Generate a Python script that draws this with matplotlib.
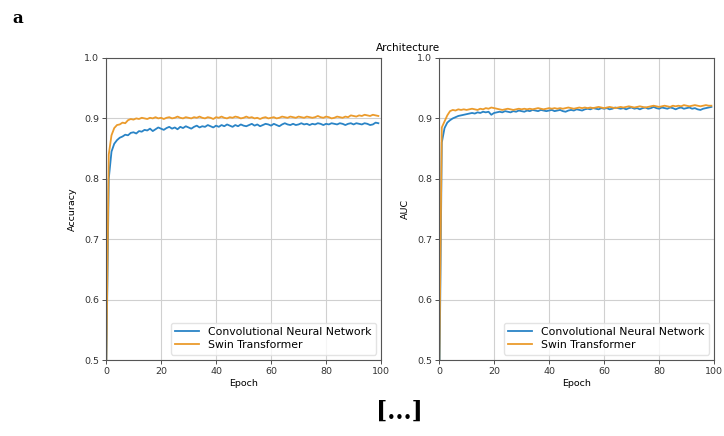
import numpy as np
import matplotlib
matplotlib.use("Agg")
import matplotlib.pyplot as plt

epochs = list(range(100))

cnn_acc = [0.45, 0.80, 0.845, 0.858, 0.864, 0.868, 0.870, 0.873, 0.872, 0.876,
           0.877, 0.875, 0.879, 0.878, 0.881, 0.880, 0.883, 0.879, 0.882, 0.885,
           0.883, 0.881, 0.884, 0.886, 0.883, 0.885, 0.882, 0.886, 0.884, 0.887,
           0.885, 0.883, 0.886, 0.888, 0.885, 0.887, 0.886, 0.889, 0.887, 0.885,
           0.888, 0.886, 0.889, 0.887, 0.890, 0.888, 0.886, 0.889, 0.887, 0.890,
           0.888, 0.887, 0.889, 0.891, 0.888, 0.890, 0.887, 0.889, 0.891, 0.890,
           0.888, 0.891, 0.889, 0.887, 0.890, 0.892, 0.890, 0.889, 0.891, 0.889,
           0.890, 0.892, 0.890, 0.891, 0.889, 0.891, 0.890, 0.892, 0.891, 0.889,
           0.891, 0.890, 0.892, 0.891, 0.890, 0.892, 0.891, 0.889, 0.891, 0.892,
           0.890, 0.892, 0.891, 0.890, 0.892, 0.891, 0.889, 0.890, 0.893, 0.892]

swin_acc = [0.45, 0.84, 0.872, 0.884, 0.889, 0.890, 0.893, 0.892, 0.897, 0.899,
            0.898, 0.900, 0.899, 0.901, 0.900, 0.899, 0.901, 0.900, 0.902, 0.900,
            0.901, 0.899, 0.901, 0.902, 0.900, 0.901, 0.903, 0.901, 0.900, 0.902,
            0.901, 0.900, 0.902, 0.901, 0.903, 0.901, 0.900, 0.902, 0.901, 0.899,
            0.902, 0.901, 0.903, 0.901, 0.900, 0.902, 0.901, 0.903, 0.902, 0.900,
            0.901, 0.903, 0.901, 0.902, 0.900, 0.901, 0.899, 0.901, 0.902, 0.900,
            0.901, 0.902, 0.900, 0.901, 0.903, 0.902, 0.901, 0.903, 0.902, 0.901,
            0.903, 0.902, 0.901, 0.903, 0.902, 0.901, 0.902, 0.904, 0.902, 0.901,
            0.903, 0.902, 0.900, 0.901, 0.903, 0.902, 0.901, 0.903, 0.902, 0.905,
            0.904, 0.903, 0.905, 0.904, 0.906, 0.905, 0.904, 0.906, 0.905, 0.904]

cnn_auc = [0.40, 0.86, 0.884, 0.893, 0.897, 0.900, 0.902, 0.904, 0.905, 0.906,
           0.907, 0.908, 0.909, 0.908, 0.910, 0.909, 0.911, 0.910, 0.911, 0.906,
           0.909, 0.910, 0.911, 0.910, 0.912, 0.911, 0.910, 0.912, 0.911, 0.913,
           0.912, 0.911, 0.913, 0.912, 0.914, 0.913, 0.912, 0.914, 0.913, 0.912,
           0.913, 0.914, 0.912, 0.913, 0.914, 0.912, 0.911, 0.913, 0.914, 0.913,
           0.915, 0.914, 0.913, 0.915, 0.916, 0.915, 0.917, 0.916, 0.915, 0.917,
           0.916, 0.917, 0.915, 0.916, 0.918, 0.917, 0.916, 0.917, 0.915, 0.917,
           0.918, 0.916, 0.917, 0.915, 0.917, 0.918, 0.916, 0.917, 0.919, 0.917,
           0.916, 0.918, 0.917, 0.916, 0.918, 0.917, 0.915, 0.917, 0.918, 0.916,
           0.917, 0.918, 0.916, 0.917, 0.915, 0.914, 0.916, 0.917, 0.918, 0.919]

swin_auc = [0.45, 0.885, 0.895, 0.905, 0.912, 0.914, 0.913, 0.915, 0.914, 0.915,
            0.914, 0.915, 0.916, 0.915, 0.914, 0.916, 0.915, 0.917, 0.916, 0.918,
            0.917, 0.916, 0.915, 0.914, 0.915, 0.916, 0.915, 0.914, 0.915, 0.916,
            0.915, 0.916, 0.915, 0.916, 0.915, 0.916, 0.917, 0.916, 0.915, 0.916,
            0.917, 0.916, 0.917, 0.916, 0.917, 0.916, 0.917, 0.918, 0.917, 0.916,
            0.917, 0.918, 0.917, 0.918, 0.917, 0.918, 0.917, 0.918, 0.919, 0.918,
            0.917, 0.918, 0.919, 0.918, 0.917, 0.918, 0.919, 0.918, 0.919, 0.920,
            0.919, 0.918, 0.919, 0.920, 0.919, 0.918, 0.919, 0.920, 0.921, 0.920,
            0.919, 0.920, 0.921, 0.920, 0.919, 0.921, 0.920, 0.921, 0.920, 0.922,
            0.921, 0.920, 0.921, 0.922, 0.921, 0.920, 0.921, 0.922, 0.921, 0.921]

labels = ["Convolutional Neural Network", "Swin Transformer"]
colors = ["#2a84c6", "#eb9b2c"]
yticks = [0.5, 0.6, 0.7, 0.8, 0.9, 1.0]
xticks = [0, 20, 40, 60, 80, 100]

fig = plt.figure(figsize=(7.24, 4.36), dpi=100)
ax1 = fig.add_axes([0.1464, 0.1743, 0.380, 0.6927])
ax2 = fig.add_axes([0.6064, 0.1743, 0.380, 0.6927])

panels = [(ax1, cnn_acc, swin_acc, "Accuracy"), (ax2, cnn_auc, swin_auc, "AUC")]
for ax, a, b, ylab in panels:
    ax.plot(epochs, a, color=colors[0], lw=1.3, label=labels[0])
    ax.plot(epochs, b, color=colors[1], lw=1.3, label=labels[1])
    ax.set_xlim(0, 100)
    ax.set_ylim(0.5, 1.0)
    ax.set_xticks(xticks)
    ax.set_yticks(yticks)
    ax.set_yticklabels([f"{t:.1f}" for t in yticks])
    ax.grid(True, color="#d0d0d0", lw=0.8)
    ax.tick_params(labelsize=6.8, length=3, width=0.6, colors="#333333", pad=2)
    for s in ax.spines.values():
        s.set_color("#555555")
        s.set_linewidth(0.8)
    ax.set_xlabel("Epoch", fontsize=6.8, labelpad=2)
    ax.set_ylabel(ylab, fontsize=6.8, labelpad=5)
    ax.legend(loc="lower right", fontsize=7.8, frameon=True, framealpha=0.8,
              edgecolor="#dddddd", fancybox=True, handlelength=2.2,
              borderpad=0.4, labelspacing=0.3)

fig.text(0.5635, 0.89, "Architecture", ha="center", va="center", fontsize=7.5)
fig.text(0.025, 0.958, "a", ha="center", va="center", fontsize=12,
         fontweight="bold", family="DejaVu Serif")
fig.text(0.552, 0.055, "[...]", ha="center", va="center", fontsize=17,
         fontweight="bold", family="DejaVu Serif")

fig.savefig("out.png", dpi=100)
